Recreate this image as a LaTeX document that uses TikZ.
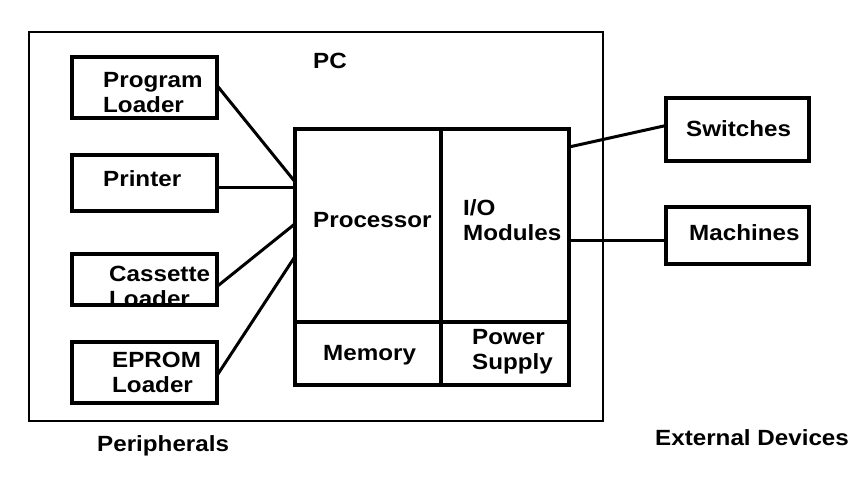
\documentclass[tikz,border=0pt]{standalone}
\usepackage{fontspec}
\newfontfamily\lblfont{Liberation Sans}[FakeStretch=1.1]
\tikzset{
  unitbox/.style={draw, line width=4pt, outer sep=0pt, inner sep=0pt, anchor=north west},
  lbl/.style={inner sep=0pt, anchor=base west, align=left,
    font=\lblfont\bfseries\fontsize{22}{25}\selectfont},
  wire/.style={line width=3pt}
}
\begin{document}
\begin{tikzpicture}[x=1pt,y=-1pt]
\useasboundingbox (0,0) rectangle (868,498);
\draw[line width=1.5pt] (29,32) rectangle (603,421);
% labels
\node[lbl] (pctxt) at (313,68) {PC};
\node[lbl] (progtxt) at (103,112) {Program\\Loader};
\node[lbl] (prntxt) at (103,186) {Printer};
\node[lbl] (castxt) at (109,306) {Cassette\\Loader};
\node[lbl] (epromtxt) at (112,392) {EPROM\\Loader};
\node[lbl] (proctxt) at (313,227) {Processor};
\node[lbl] (iotxt) at (463,240) {I/O\\Modules};
\node[lbl] (memtxt) at (323,360) {Memory};
\node[lbl] (pwrtxt) at (472,369) {Power\\Supply};
\node[lbl] (swtxt) at (686,136) {Switches};
\node[lbl] (machtxt) at (689,240) {Machines};
\node[lbl] (peritxt) at (97,451) {Peripherals};
\node[lbl] (exttxt) at (655,445) {External Devices};
% boxes
\node[unitbox, minimum width=145pt, minimum height=61pt] (prog) at (72,57) {};
\node[unitbox, minimum width=145pt, minimum height=56pt] (prn) at (72,155) {};
\node[unitbox, minimum width=145pt, minimum height=51pt] (cas) at (72,254) {};
\node[unitbox, minimum width=145pt, minimum height=61pt] (eprom) at (72,342) {};
\node[unitbox, minimum width=143pt, minimum height=63pt] (sw) at (666,98) {};
\node[unitbox, minimum width=143pt, minimum height=57pt] (mach) at (666,207) {};
\node[unitbox, minimum width=274pt, minimum height=256pt] (cpu) at (295,129) {};
\coordinate (div) at (441,322);
\draw[line width=4pt] (div |- cpu.north) -- (div |- cpu.south);
\draw[line width=4pt] (cpu.west |- div) -- (cpu.east |- div);
% connectors
\coordinate (in1) at (296,183);
\coordinate (in2) at (296,187);
\coordinate (in3) at (296,223);
\coordinate (in4) at (296,255);
\coordinate (out1) at (569,147);
\coordinate (out2) at (569,240);
\draw[wire] ([yshift=2pt]prog.east) -- (in1);
\draw[wire] (in2 -| prn.east) -- (in2);
\draw[wire] ([yshift=-7pt]cas.east) -- (in3);
\draw[wire] ([yshift=-3pt]eprom.east) -- (in4);
\draw[wire] (out1) -- ([yshift=4pt]sw.west);
\draw[wire] (out2) -- (out2 -| mach.west);
\end{tikzpicture}
\end{document}
